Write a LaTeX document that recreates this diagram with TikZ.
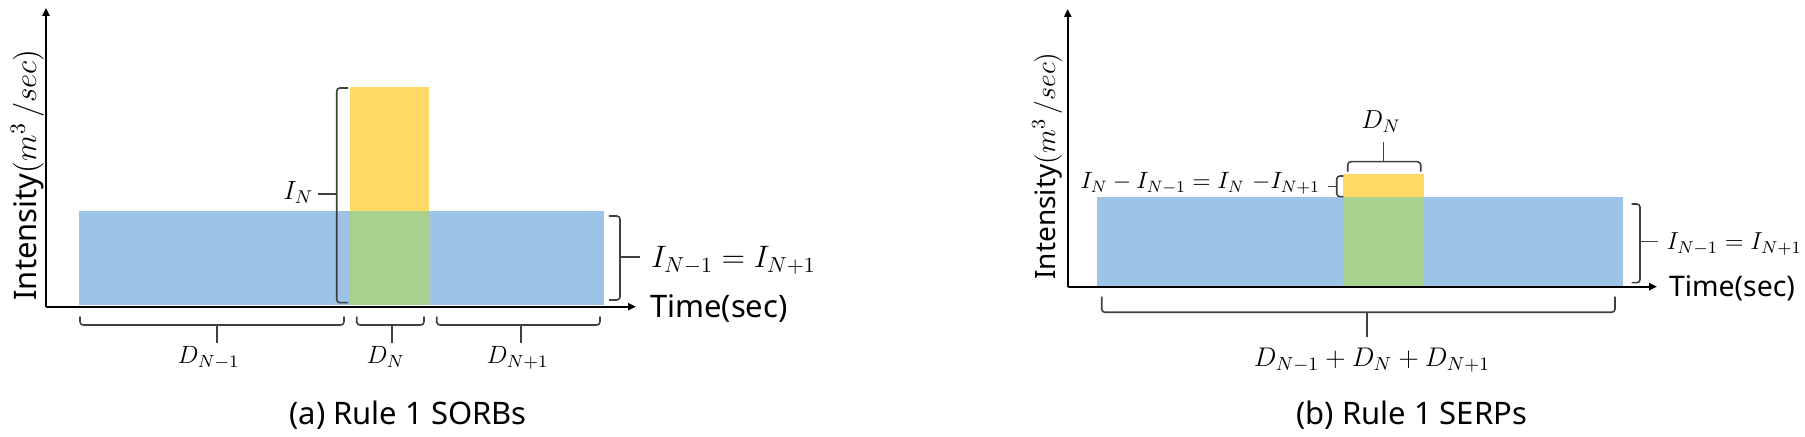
\RequirePackage{fix-cm}
\documentclass[tikz,border=0pt]{standalone}
\usepackage{fontspec}
\setsansfont{Noto Sans}
\usetikzlibrary{arrows.meta}
\definecolor{barblue}{RGB}{157,195,230}
\definecolor{baryellow}{RGB}{255,217,102}
\definecolor{bargreen}{RGB}{169,209,142}
\definecolor{bracegray}{RGB}{64,64,64}
\newcommand{\fs}[1]{\fontsize{#1}{#1}\selectfont}
\tikzset{
  axisline/.style={line width=1.1pt, -{Triangle[length=4pt,width=3.6pt]}},
  bracket/.style={draw=bracegray, line width=0.8pt, rounded corners=1.6pt},
  bracetip/.style={draw=bracegray, line width=0.8pt},
  lbl/.style={inner sep=0pt, outer sep=0pt},
}
\begin{document}
\begin{tikzpicture}[x=0.5pt,y=-0.5pt]
\useasboundingbox (0,0) rectangle (1805,437);
% ================= panel (a) =================
\fill[barblue] (79,210.7) rectangle (604,305.5);
\fill[baryellow] (350,86.7) rectangle (429,210.7);
\fill[bargreen] (350,210.7) rectangle (429,305.5);
\coordinate (aO) at (46,306.7);
\coordinate (aY) at (46,8);
\coordinate (aX) at (636,306.7);
\draw[axisline] (aO) -- (aY);
\draw[axisline] (aO) -- (aX);
\node[lbl, rotate=90, anchor=base, font=\sffamily\fs{15.5}] (aint) at (36,175) {Intensity$(m^3\,/sec)$};
\node[lbl, anchor=base west, font=\sffamily\fs{15.5}] (atime) at (650,318) {Time(sec)};
% I_N brace
\draw[bracket] (348,88) -- (336.7,88) -- (336.7,302.7) -- (348,302.7);
\draw[bracetip] (336.7,194.3) -- (318,194.3);
\node[lbl, anchor=base east, font=\fs{13.2}] (aIN) at (313,200) {$I_N$};
% right brace
\draw[bracket] (609,216) -- (620,216) -- (620,300) -- (609,300);
\draw[bracetip] (620,257) -- (640,257);
\node[lbl, anchor=base west, font=\fs{15.5}] (aIeq) at (651,267.5) {$I_{N-1} = I_{N+1}$};
% bottom braces
\draw[bracket] (80,316.7) -- (80,325) -- (344,325) -- (344,316.7);
\draw[bracetip] (216.7,325) -- (216.7,343);
\draw[bracket] (356.7,316.7) -- (356.7,325) -- (424,325) -- (424,316.7);
\draw[bracetip] (391.7,325) -- (391.7,343);
\draw[bracket] (436.7,316.7) -- (436.7,325) -- (600,325) -- (600,316.7);
\draw[bracetip] (520.7,325) -- (520.7,343);
\node[lbl, anchor=base, font=\fs{12.5}] (aD1) at (208.5,363.3) {$D_{N-1}$};
\node[lbl, anchor=base, font=\fs{12.5}] (aD2) at (385.5,363.3) {$D_{N}$};
\node[lbl, anchor=base, font=\fs{12.5}] (aD3) at (517.5,363.3) {$D_{N+1}$};
\node[lbl, anchor=base, font=\sffamily\fs{15.5}] (acap) at (408,425) {(a) Rule 1 SORBs};
% ================= panel (b) =================
\fill[barblue] (1097.3,197.3) rectangle (1622.7,285.7);
\fill[baryellow] (1343.3,174) rectangle (1424,197.3);
\fill[bargreen] (1343.3,197.3) rectangle (1424,285.7);
\coordinate (bO) at (1067.7,286.7);
\coordinate (bY) at (1067.7,9);
\coordinate (bX) at (1657,286.7);
\draw[axisline] (bO) -- (bY);
\draw[axisline] (bO) -- (bX);
\node[lbl, rotate=90, anchor=base, font=\sffamily\fs{14}] (bint) at (1055,166) {Intensity$(m^3\,/sec)$};
\node[lbl, anchor=base west, font=\sffamily\fs{14.2}] (btime) at (1669,296.7) {Time(sec)};
% D_N brace on top
\draw[bracket] (1347.7,171.7) -- (1347.7,161.7) -- (1420.7,161.7) -- (1420.7,171.7);
\draw[bracetip] (1383.3,161.7) -- (1383.3,141.7);
\node[lbl, anchor=base, font=\fs{13}] (bDN) at (1381,128.3) {$D_N$};
% small brace
\draw[bracket] (1343.3,176) -- (1336.7,176) -- (1336.7,196.7) -- (1343.3,196.7);
\draw[bracetip] (1336.7,186.7) -- (1328,186.7);
\node[lbl, anchor=base east, font=\fs{11.8}] (bdiff) at (1320,188.5) {$I_N - I_{N-1} = I_N\ {-}I_{N+1}$};
% right brace
\draw[bracket] (1631.7,204) -- (1640,204) -- (1640,282.7) -- (1631.7,282.7);
\draw[bracetip] (1640,241.7) -- (1658.3,241.7);
\node[lbl, anchor=base west, font=\fs{12.3}] (bIeq) at (1666.7,250) {$I_{N-1} = I_{N+1}$};
% bottom brace
\draw[bracket] (1101.7,296.7) -- (1101.7,312.3) -- (1615,312.3) -- (1615,296.7);
\draw[bracetip] (1366.7,312.3) -- (1366.7,337.3);
\node[lbl, anchor=base, font=\fs{13.5}] (bDsum) at (1372,366.7) {$D_{N-1} + D_N + D_{N+1}$};
\node[lbl, anchor=base, font=\sffamily\fs{15.5}] (bcap) at (1411.7,425) {(b) Rule 1 SERPs};
\end{tikzpicture}
\end{document}
